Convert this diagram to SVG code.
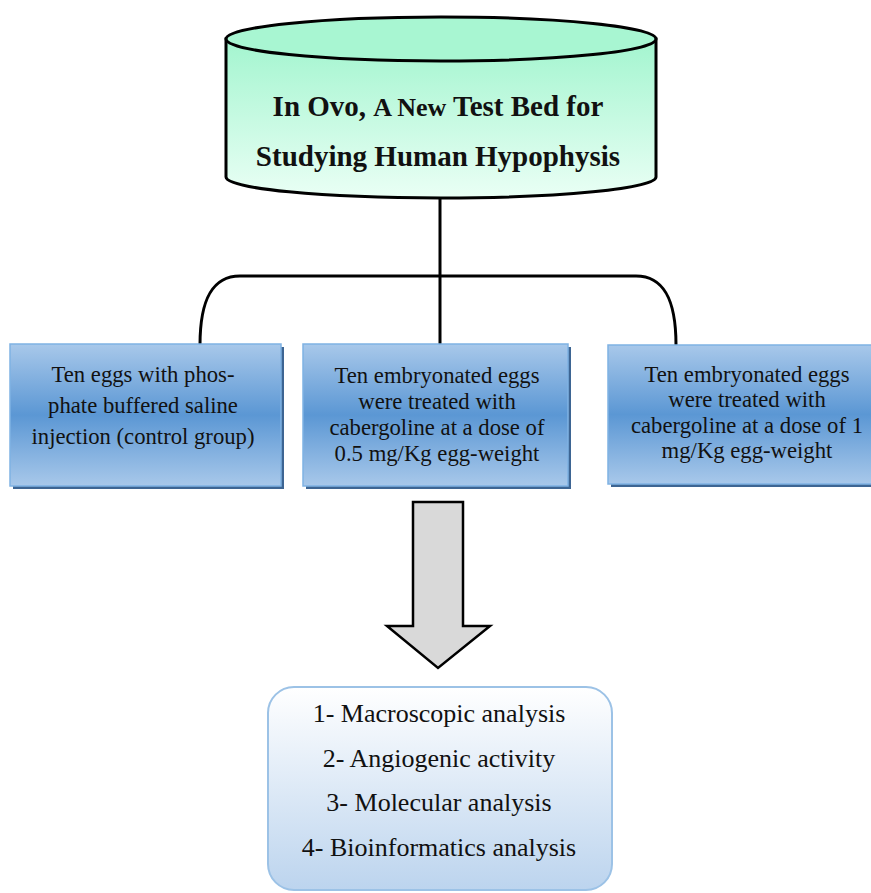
<svg xmlns="http://www.w3.org/2000/svg" width="871" height="893" viewBox="0 0 871 893">
<defs>
<linearGradient id="gCyl" x1="0" y1="0" x2="0" y2="1">
<stop offset="0" stop-color="#a3f5cf"/>
<stop offset="1" stop-color="#eafff5"/>
</linearGradient>
<linearGradient id="gBox" x1="0" y1="0" x2="0" y2="1">
<stop offset="0" stop-color="#a8c8ea"/>
<stop offset="0.5" stop-color="#5b97d4"/>
<stop offset="1" stop-color="#a8c8ea"/>
</linearGradient>
<linearGradient id="gRes" x1="0" y1="0" x2="0" y2="1">
<stop offset="0" stop-color="#ffffff"/>
<stop offset="1" stop-color="#bcd4ee"/>
</linearGradient>
<style>
.box{fill:url(#gBox);stroke:#7fb2e3;stroke-width:1.5}
.shadow{fill:#3d6593}
.t{font-family:"Liberation Serif","Times New Roman",serif;font-size:22.7px;fill:#111;text-anchor:middle}
.title{font-family:"Liberation Serif","Times New Roman",serif;font-size:29px;font-weight:bold;fill:#111;text-anchor:middle}
.res{font-family:"Liberation Serif","Times New Roman",serif;font-size:26px;fill:#111;text-anchor:middle}
.conn{fill:none;stroke:#000;stroke-width:3}
</style>
</defs>
<rect width="871" height="893" fill="#fff"/>
<g id="connectors">
<line class="conn" x1="440" y1="199" x2="440" y2="345"/>
<path class="conn" d="M200,345 C200,300 212,276 240,276 L636,276 C664,276 676,300 676,345"/>
</g>
<g id="title">
<path d="M226,39 L226,177 A215,21 0 0 0 656,177 L656,39 Z" fill="url(#gCyl)" stroke="#000" stroke-width="3"/>
<ellipse cx="441" cy="39" rx="215" ry="22" fill="#a8f6d2" stroke="#000" stroke-width="3"/>
<text class="title" x="438" y="116">In Ovo, <tspan font-size="26px">A New</tspan> Test Bed for</text>
<text class="title" x="438" y="166">Studying Human Hypophysis</text>
</g>
<g id="box1">
<rect class="shadow" x="13" y="347" width="271" height="142"/>
<rect class="box" x="10" y="344" width="271" height="142"/>
<text class="t" x="143" y="382">Ten eggs with phos-</text>
<text class="t" x="143" y="413">phate buffered saline</text>
<text class="t" x="143" y="444">injection (control group)</text>
</g>
<g id="box2">
<rect class="shadow" x="306" y="347" width="265" height="142"/>
<rect class="box" x="303" y="344" width="265" height="142"/>
<text class="t" x="437" y="383">Ten embryonated eggs</text>
<text class="t" x="437" y="409">were treated with</text>
<text class="t" x="437" y="435">cabergoline at a dose of</text>
<text class="t" x="437" y="461">0.5 mg/Kg egg-weight</text>
</g>
<g id="box3">
<rect class="shadow" x="611" y="348" width="265" height="139"/>
<rect class="box" x="608" y="345" width="266" height="139"/>
<text class="t" x="747" y="382">Ten embryonated eggs</text>
<text class="t" x="747" y="407">were treated with</text>
<text class="t" x="747" y="433">cabergoline at a dose of 1</text>
<text class="t" x="747" y="458">mg/Kg egg-weight</text>
</g>
<g id="arrow">
<path d="M413,502 L463,502 L463,626 L490,626 L438,668 L387,626 L413,626 Z" fill="#d9d9d9" stroke="#000" stroke-width="2.5" stroke-linejoin="miter"/>
</g>
<g id="results">
<rect x="268" y="687" width="344" height="203" rx="26" ry="26" fill="url(#gRes)" stroke="#9cc2e6" stroke-width="2"/>
<text class="res" x="439" y="722">1- Macroscopic analysis</text>
<text class="res" x="439" y="767">2- Angiogenic activity</text>
<text class="res" x="439" y="811">3- Molecular analysis</text>
<text class="res" x="439" y="856">4- Bioinformatics analysis</text>
</g>
</svg>
